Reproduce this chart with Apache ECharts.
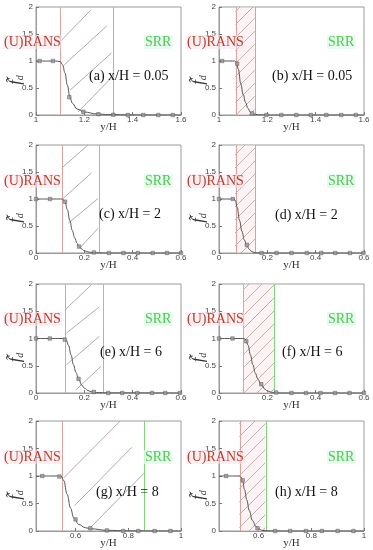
<!DOCTYPE html>
<html><head><meta charset="utf-8">
<script src="https://cdn.jsdelivr.net/npm/echarts@6/dist/echarts.min.js"></script>
<style>html,body{margin:0;padding:0;background:#fff}#c{width:373px;height:550px}</style>
</head><body><div id="c"></div>
<script>
// ---------------- data ----------------
const panelTitles = ['(a) x/H = 0.05','(b) x/H = 0.05','(c) x/H = 2','(d) x/H = 2','(e) x/H = 6','(f) x/H = 6','(g) x/H = 8','(h) x/H = 8'];
const xMin = [1, 1, 0, 0, 0, 0, 0.45, 0.45];
const xMax = [1.6, 1.6, 0.6, 0.6, 0.6, 0.6, 1, 1];
const xTicksAB = [1, 1.2, 1.4, 1.6];
const xTicksCF = [0, 0.2, 0.4, 0.6];
const xTicksGH = [0.6, 0.8, 1];
const yTicks = [0, 0.5, 1, 1.5, 2];
const ransEdge = [1.1, 1.068, 0.106, 0.066, 0.119, 0.104, 0.548, 0.527];
const srrEdge  = [1.317, 1.148, 0.257, 0.152, 0.275, 0.229, 0.861, 0.626];

const curveA = [[1,1],[1.08,1],[1.1,0.99],[1.11,0.93],[1.12,0.78],[1.13,0.55],[1.14,0.33],[1.15,0.22],[1.17,0.11],[1.2,0.055],[1.25,0.02],[1.3,0.008],[1.4,0.002],[1.6,0]];
const markA  = [[1.015,1],[1.07,1],[1.138,0.33],[1.196,0.06],[1.258,0.015],[1.32,0.005],[1.38,0],[1.444,0],[1.506,0],[1.566,0]];
const curveB = [[1,1],[1.065,1],[1.072,0.98],[1.08,0.85],[1.09,0.58],[1.1,0.38],[1.11,0.23],[1.12,0.12],[1.13,0.05],[1.14,0.02],[1.16,0.005],[1.2,0],[1.6,0]];
const markB  = [[1.013,1],[1.075,0.95],[1.137,0.03],[1.196,0],[1.258,0],[1.32,0],[1.38,0],[1.444,0],[1.506,0],[1.566,0]];
const curveC = [[0,1],[0.11,1],[0.12,0.95],[0.13,0.8],[0.14,0.6],[0.15,0.42],[0.16,0.28],[0.17,0.18],[0.178,0.12],[0.19,0.07],[0.2,0.04],[0.22,0.015],[0.25,0.005],[0.3,0],[0.6,0]];
const markC  = [[0,1],[0.058,1],[0.12,0.95],[0.178,0.12],[0.24,0.01],[0.302,0],[0.362,0],[0.421,0],[0.483,0],[0.542,0],[0.6,0]];
const curveD = [[0,1],[0.062,1],[0.068,0.97],[0.075,0.85],[0.085,0.6],[0.095,0.4],[0.105,0.24],[0.115,0.14],[0.125,0.07],[0.135,0.03],[0.145,0.01],[0.16,0.003],[0.2,0],[0.6,0]];
const markD  = [[0,1],[0.057,1],[0.115,0.15],[0.176,0],[0.238,0],[0.3,0],[0.364,0],[0.423,0],[0.481,0],[0.542,0],[0.598,0]];
const curveE = [[0,1],[0.118,1],[0.125,0.97],[0.135,0.87],[0.145,0.7],[0.155,0.52],[0.165,0.38],[0.176,0.26],[0.19,0.14],[0.2,0.09],[0.215,0.045],[0.23,0.022],[0.25,0.01],[0.3,0.003],[0.6,0]];
const markE  = [[0,1],[0.057,1],[0.119,0.98],[0.176,0.26],[0.239,0.02],[0.299,0],[0.357,0],[0.419,0],[0.48,0],[0.535,0],[0.596,0]];
const curveF = [[0,1],[0.104,1],[0.11,0.98],[0.12,0.88],[0.13,0.7],[0.14,0.52],[0.15,0.37],[0.16,0.26],[0.175,0.15],[0.19,0.07],[0.2,0.04],[0.215,0.015],[0.23,0.005],[0.26,0],[0.6,0]];
const markF  = [[0,1],[0.056,1],[0.113,0.95],[0.175,0.16],[0.237,0.01],[0.3,0],[0.36,0],[0.42,0],[0.48,0],[0.54,0],[0.6,0]];
const curveG = [[0.45,1],[0.545,1],[0.555,0.92],[0.568,0.67],[0.581,0.42],[0.593,0.24],[0.612,0.12],[0.637,0.06],[0.66,0.04],[0.72,0.012],[0.8,0.003],[1,0]];
const markG  = [[0.474,1],[0.539,0.99],[0.6,0.21],[0.656,0.05],[0.719,0.01],[0.781,0],[0.838,0],[0.9,0],[0.96,0]];
const curveH = [[0.45,1],[0.527,1],[0.535,0.97],[0.54,0.9],[0.547,0.75],[0.555,0.57],[0.565,0.37],[0.577,0.19],[0.59,0.08],[0.6,0.04],[0.615,0.01],[0.64,0.002],[0.7,0],[1,0]];
const markH  = [[0.477,1],[0.54,0.92],[0.596,0.05],[0.663,0],[0.72,0],[0.78,0],[0.84,0],[0.9,0],[0.96,0]];

// sparse hatch segments [x1,y1,x2,y2] (panels a, c, e, g)
const hatchA = [[1.10,1.36,1.226,1.94],[1.117,0.93,1.293,1.65],[1.141,0.46,1.313,1.15],[1.175,0.06,1.317,0.71]];
const hatchC = [[0.106,1.57,0.215,2.0],[0.112,1.01,0.229,1.48],[0.133,0.55,0.257,1.01],[0.181,0.09,0.257,0.46]];
const hatchE = [[0.119,1.52,0.228,1.98],[0.126,1.1,0.262,1.58],[0.126,0.52,0.262,1.04],[0.166,0.06,0.269,0.49]];
const hatchG = [[0.554,0.96,0.769,2.0],[0.596,0.46,0.813,1.52],[0.658,0.07,0.862,1.06]];

const curves = [curveA, curveB, curveC, curveD, curveE, curveF, curveG, curveH];
const marks = [markA, markB, markC, markD, markE, markF, markG, markH];
const hatches = [hatchA, null, hatchC, null, hatchE, null, hatchG, null];
const xTickSets = [xTicksAB, xTicksAB, xTicksCF, xTicksCF, xTicksCF, xTicksCF, xTicksGH, xTicksGH];

// ---------------- layout ----------------
const colLeft = [36, 219];
const colWidth = 145;
const rowTop = [7, 145, 284, 421];
const rowHeight = [108, 108, 109, 110];
const annY = [43, 182, 320, 458];
const titleX = [89, 272, 99, 275, 100, 282, 96, 275];
const titleY = [77, 77, 215, 216, 353, 353, 493, 493];
const denseHatch = [false, true, false, true, false, true, false, true];

function hatchPattern(step) {
  const cv = document.createElement('canvas');
  cv.width = step; cv.height = step;
  const ctx = cv.getContext('2d');
  ctx.strokeStyle = '#aea29c';
  ctx.lineWidth = 0.8;
  ctx.beginPath();
  ctx.moveTo(0, step); ctx.lineTo(step, 0);
  ctx.moveTo(-2, 2); ctx.lineTo(2, -2);
  ctx.moveTo(step - 2, step + 2); ctx.lineTo(step + 2, step - 2);
  ctx.stroke();
  return cv;
}
const pat = hatchPattern(13);

const serif = '"Liberation Serif", "DejaVu Serif", serif';
const sans = '"Liberation Sans", "DejaVu Sans", sans-serif';

const grid = [], xAxis = [], yAxis = [], series = [], graphic = [];
for (let i = 0; i < 8; i++) {
  const r = Math.floor(i / 2), c = i % 2;
  grid.push({ left: colLeft[c], top: rowTop[r], width: colWidth, height: rowHeight[r],
    show: true, borderColor: '#9a9a9a', borderWidth: 1, backgroundColor: 'transparent' });
  xAxis.push({ type: 'value', gridIndex: i, min: xMin[i], max: xMax[i],
    name: 'y/H', nameLocation: 'middle', nameGap: 7, nameMoveOverlap: false,
    nameTextStyle: { fontFamily: serif, fontSize: 11, color: '#333', verticalAlign: 'top' },
    axisLine: { show: true, onZero: false, lineStyle: { color: '#9a9a9a', width: 1 } },
    axisTick: { show: true, inside: true, length: 3, customValues: xTickSets[i], lineStyle: { color: '#777' } },
    axisLabel: { customValues: xTickSets[i], fontFamily: sans, fontSize: 8, color: '#444', margin: 1,
      showMinLabel: true, showMaxLabel: true },
    splitLine: { show: false } });
  yAxis.push({ type: 'value', gridIndex: i, min: 0, max: 2, interval: 0.5,
    name: '{f|f\u0303}{d|d}', nameLocation: 'middle', nameGap: 11, nameRotate: 90, nameMoveOverlap: false,
    nameTextStyle: { padding: [0, 38, 0, 0], rich: {
      f: { fontFamily: serif, fontStyle: 'italic', fontSize: 17, color: '#333' },
      d: { fontFamily: serif, fontStyle: 'italic', fontSize: 10, color: '#333', padding: [8, 0, 0, 0] } } },
    axisLine: { show: true, lineStyle: { color: '#9a9a9a', width: 1 } },
    axisTick: { show: true, inside: true, length: 3, lineStyle: { color: '#777' } },
    axisLabel: { fontFamily: sans, fontSize: 8, color: '#444', margin: 3 },
    splitLine: { show: false } });

  // faint tint + dense hatch between the two boundaries
  if (denseHatch[i]) {
    series.push({ type: 'line', xAxisIndex: i, yAxisIndex: i, data: [], silent: true,
      markArea: { silent: true, itemStyle: { color: 'rgba(250,228,232,0.45)', opacity: 1 },
        data: [[{ xAxis: ransEdge[i] }, { xAxis: srrEdge[i] }]] } });
    series.push({ type: 'line', xAxisIndex: i, yAxisIndex: i, data: [], silent: true,
      markArea: { silent: true, itemStyle: { color: { image: pat, repeat: 'repeat' }, opacity: 1 },
        data: [[{ xAxis: ransEdge[i] }, { xAxis: srrEdge[i] }]] } });
  }
  // (U)RANS boundary
  series.push({ type: 'line', xAxisIndex: i, yAxisIndex: i, data: [], silent: true,
    markLine: { silent: true, symbol: 'none', label: { show: false }, animation: false,
      lineStyle: { color: '#d9a49f', width: 1, type: 'solid', opacity: 1 },
      data: [{ xAxis: ransEdge[i] }] } });
  // SRR boundary
  series.push({ type: 'line', xAxisIndex: i, yAxisIndex: i, data: [], silent: true,
    markLine: { silent: true, symbol: 'none', label: { show: false }, animation: false,
      lineStyle: { color: '#7fd67f', width: 1, type: 'solid', opacity: 1 },
      data: [{ xAxis: srrEdge[i] }] } });
  if (hatches[i]) {
    series.push({ type: 'lines', coordinateSystem: 'cartesian2d', xAxisIndex: i, yAxisIndex: i, silent: true,
      lineStyle: { color: '#b8a8a4', width: 1, opacity: 1 },
      data: hatches[i].map(h => ({ coords: [[h[0], h[1]], [h[2], h[3]]] })) });
  }
  series.push({ type: 'line', xAxisIndex: i, yAxisIndex: i, data: curves[i], smooth: 0.4, smoothMonotone: 'x',
    showSymbol: false, lineStyle: { color: '#555', width: 1 }, silent: true, z: 5 });
  series.push({ type: 'scatter', xAxisIndex: i, yAxisIndex: i, data: marks[i], symbol: 'rect', symbolSize: 3.5,
    itemStyle: { color: '#9a9a9a', borderColor: '#555', borderWidth: 0.6 }, silent: true, z: 6 });

  graphic.push({ type: 'text', left: colLeft[c] - 33, top: annY[r] - 8, z: 10,
    style: { text: '(U)RANS', fill: '#b5402f', fontFamily: serif, fontSize: 14,
      backgroundColor: 'rgba(252,225,232,0.55)', padding: [0, 1] } });
  graphic.push({ type: 'text', left: colLeft[c] + 108, top: annY[r] - 8, z: 10,
    style: { text: 'SRR', fill: '#50c850', fontFamily: serif, fontSize: 14,
      backgroundColor: 'rgba(225,250,235,0.8)', padding: [0, 1] } });
  graphic.push({ type: 'text', left: titleX[i], top: titleY[i] - 8, z: 10,
    style: { text: panelTitles[i], fill: '#111', fontFamily: serif, fontSize: 14 } });
}

const chart = echarts.init(document.getElementById('c'), null, { renderer: 'canvas' });
chart.setOption({ animation: false, backgroundColor: '#fff', grid, xAxis, yAxis, series, graphic });
</script>
</body></html>
